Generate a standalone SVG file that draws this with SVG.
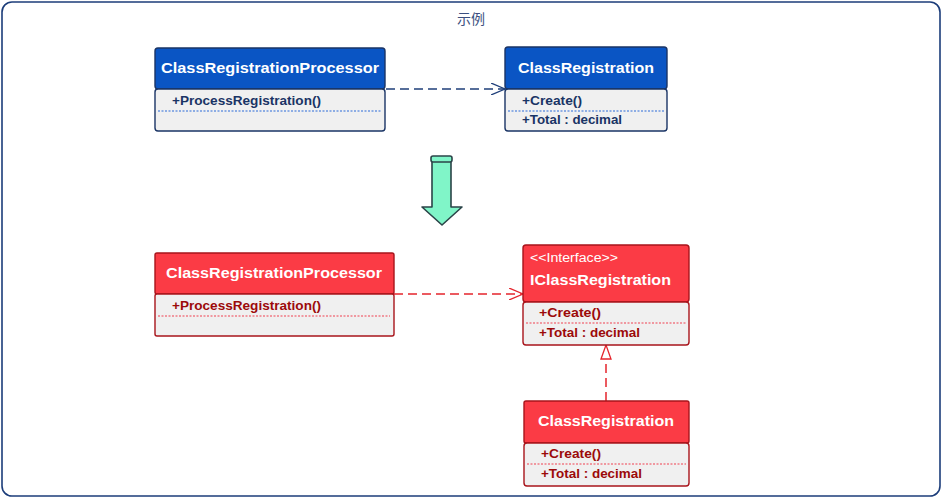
<svg xmlns="http://www.w3.org/2000/svg" width="943" height="499" viewBox="0 0 943 499">
<style>
.frame{fill:#ffffff;stroke:#1c3d7a;stroke-width:1.6}
.title{font-family:"Noto Sans CJK SC","Noto Sans",sans-serif;font-size:14px;fill:#3b4f80}
.bh{fill:#0a55c4;stroke:#1a3465;stroke-width:1.4}
.bb{fill:#f0f0f0;stroke:#1a3465;stroke-width:1.4}
.rh{fill:#fb3b45;stroke:#a8141b;stroke-width:1.4}
.rb{fill:#f0f0f0;stroke:#a8141b;stroke-width:1.4}
.hd{font-family:"Liberation Sans",Arial,sans-serif;font-weight:bold;font-size:14px;fill:#ffffff}
.st{font-family:"Liberation Sans",Arial,sans-serif;font-size:12px;fill:#ffffff}
.bm{font-family:"Liberation Sans",Arial,sans-serif;font-weight:bold;font-size:12.5px;fill:#1a3465}
.rm{font-family:"Liberation Sans",Arial,sans-serif;font-weight:bold;font-size:12.5px;fill:#9c0a0a}
.bdot{stroke:#2a6ad8;stroke-width:1;stroke-dasharray:2 1.5}
.rdot{stroke:#f04050;stroke-width:1;stroke-dasharray:2 1.5}
.bdash{fill:none;stroke:#1f3f7a;stroke-width:1.5;stroke-dasharray:9 5}
.rdash{fill:none;stroke:#e5252d;stroke-width:1.5;stroke-dasharray:9 5}
</style>
<defs>
<marker id="openB" markerWidth="16" markerHeight="12" refX="14" refY="6" orient="auto" markerUnits="userSpaceOnUse">
<path d="M0,0 L14,6 L0,12" fill="none" stroke="#1f3f7a" stroke-width="1.3"/>
</marker>
<marker id="openR" markerWidth="16" markerHeight="12" refX="14" refY="6" orient="auto" markerUnits="userSpaceOnUse">
<path d="M0,0 L14,6 L0,12" fill="none" stroke="#e5252d" stroke-width="1.3"/>
</marker>
<marker id="triR" markerWidth="16" markerHeight="12" refX="15" refY="6" orient="auto" markerUnits="userSpaceOnUse">
<path d="M1,1 L15,6 L1,11 Z" fill="#ffffff" stroke="#e5252d" stroke-width="1.3"/>
</marker>
</defs>
<rect class="frame" x="2" y="2" width="938" height="494" rx="10"/>
<text class="title" x="471" y="24" text-anchor="middle">示例</text>

<g id="connectors">
<line class="bdash" x1="386" y1="89" x2="505" y2="89" marker-end="url(#openB)"/>
<line class="rdash" x1="394" y1="294" x2="523" y2="294" marker-end="url(#openR)"/>
<line class="rdash" x1="606" y1="401" x2="606" y2="345" marker-end="url(#triR)"/>
</g>

<g id="transform-arrow">
<path d="M432,160 L451,160 L451,207 L462,207 L442,225 L422,207 L432,207 Z" fill="#80f5c8" stroke="#2a4448" stroke-width="1.6" stroke-linejoin="round"/>
<rect x="431" y="156" width="21" height="6" rx="2" fill="#80f5c8" stroke="#2a4448" stroke-width="1.6"/>
</g>

<g id="blue-processor">
<rect class="bh" x="155" y="48" width="230" height="41" rx="3"/>
<rect class="bb" x="155" y="89" width="230" height="42" rx="3"/>
<text class="hd" x="270" y="73" text-anchor="middle" textLength="218" lengthAdjust="spacingAndGlyphs">ClassRegistrationProcessor</text>
<text class="bm" x="172" y="105" textLength="149" lengthAdjust="spacingAndGlyphs">+ProcessRegistration()</text>
<line class="bdot" x1="158" y1="111" x2="382" y2="111"/>
</g>

<g id="blue-registration">
<rect class="bh" x="505" y="47" width="162" height="42" rx="3"/>
<rect class="bb" x="505" y="89" width="162" height="42" rx="3"/>
<text class="hd" x="586" y="73" text-anchor="middle" textLength="136" lengthAdjust="spacingAndGlyphs">ClassRegistration</text>
<text class="bm" x="522" y="105" textLength="60" lengthAdjust="spacingAndGlyphs">+Create()</text>
<line class="bdot" x1="508" y1="111" x2="664" y2="111"/>
<text class="bm" x="522" y="124" textLength="100" lengthAdjust="spacingAndGlyphs">+Total : decimal</text>
</g>

<g id="red-processor">
<rect class="rh" x="155" y="253" width="239" height="41" rx="2"/>
<rect class="rb" x="155" y="294" width="239" height="42" rx="2"/>
<text class="hd" x="274" y="278" text-anchor="middle" textLength="216" lengthAdjust="spacingAndGlyphs">ClassRegistrationProcessor</text>
<text class="rm" x="172" y="310" textLength="149" lengthAdjust="spacingAndGlyphs">+ProcessRegistration()</text>
<line class="rdot" x1="158" y1="316" x2="390" y2="316"/>
</g>

<g id="red-interface">
<rect class="rh" x="523" y="245" width="166" height="57" rx="3"/>
<rect class="rb" x="523" y="302" width="166" height="43" rx="3"/>
<text class="st" x="530" y="262" textLength="88" lengthAdjust="spacingAndGlyphs">&lt;&lt;Interface&gt;&gt;</text>
<text class="hd" x="530" y="285" textLength="141" lengthAdjust="spacingAndGlyphs">IClassRegistration</text>
<text class="rm" x="539" y="317" textLength="62" lengthAdjust="spacingAndGlyphs">+Create()</text>
<line class="rdot" x1="526" y1="323" x2="686" y2="323"/>
<text class="rm" x="539" y="337" textLength="101" lengthAdjust="spacingAndGlyphs">+Total : decimal</text>
</g>

<g id="red-registration">
<rect class="rh" x="524" y="401" width="165" height="42" rx="2"/>
<rect class="rb" x="524" y="443" width="165" height="43" rx="3"/>
<text class="hd" x="606" y="426" text-anchor="middle" textLength="136" lengthAdjust="spacingAndGlyphs">ClassRegistration</text>
<text class="rm" x="541" y="458" textLength="60" lengthAdjust="spacingAndGlyphs">+Create()</text>
<line class="rdot" x1="527" y1="464" x2="686" y2="464"/>
<text class="rm" x="541" y="478" textLength="101" lengthAdjust="spacingAndGlyphs">+Total : decimal</text>
</g>
</svg>
